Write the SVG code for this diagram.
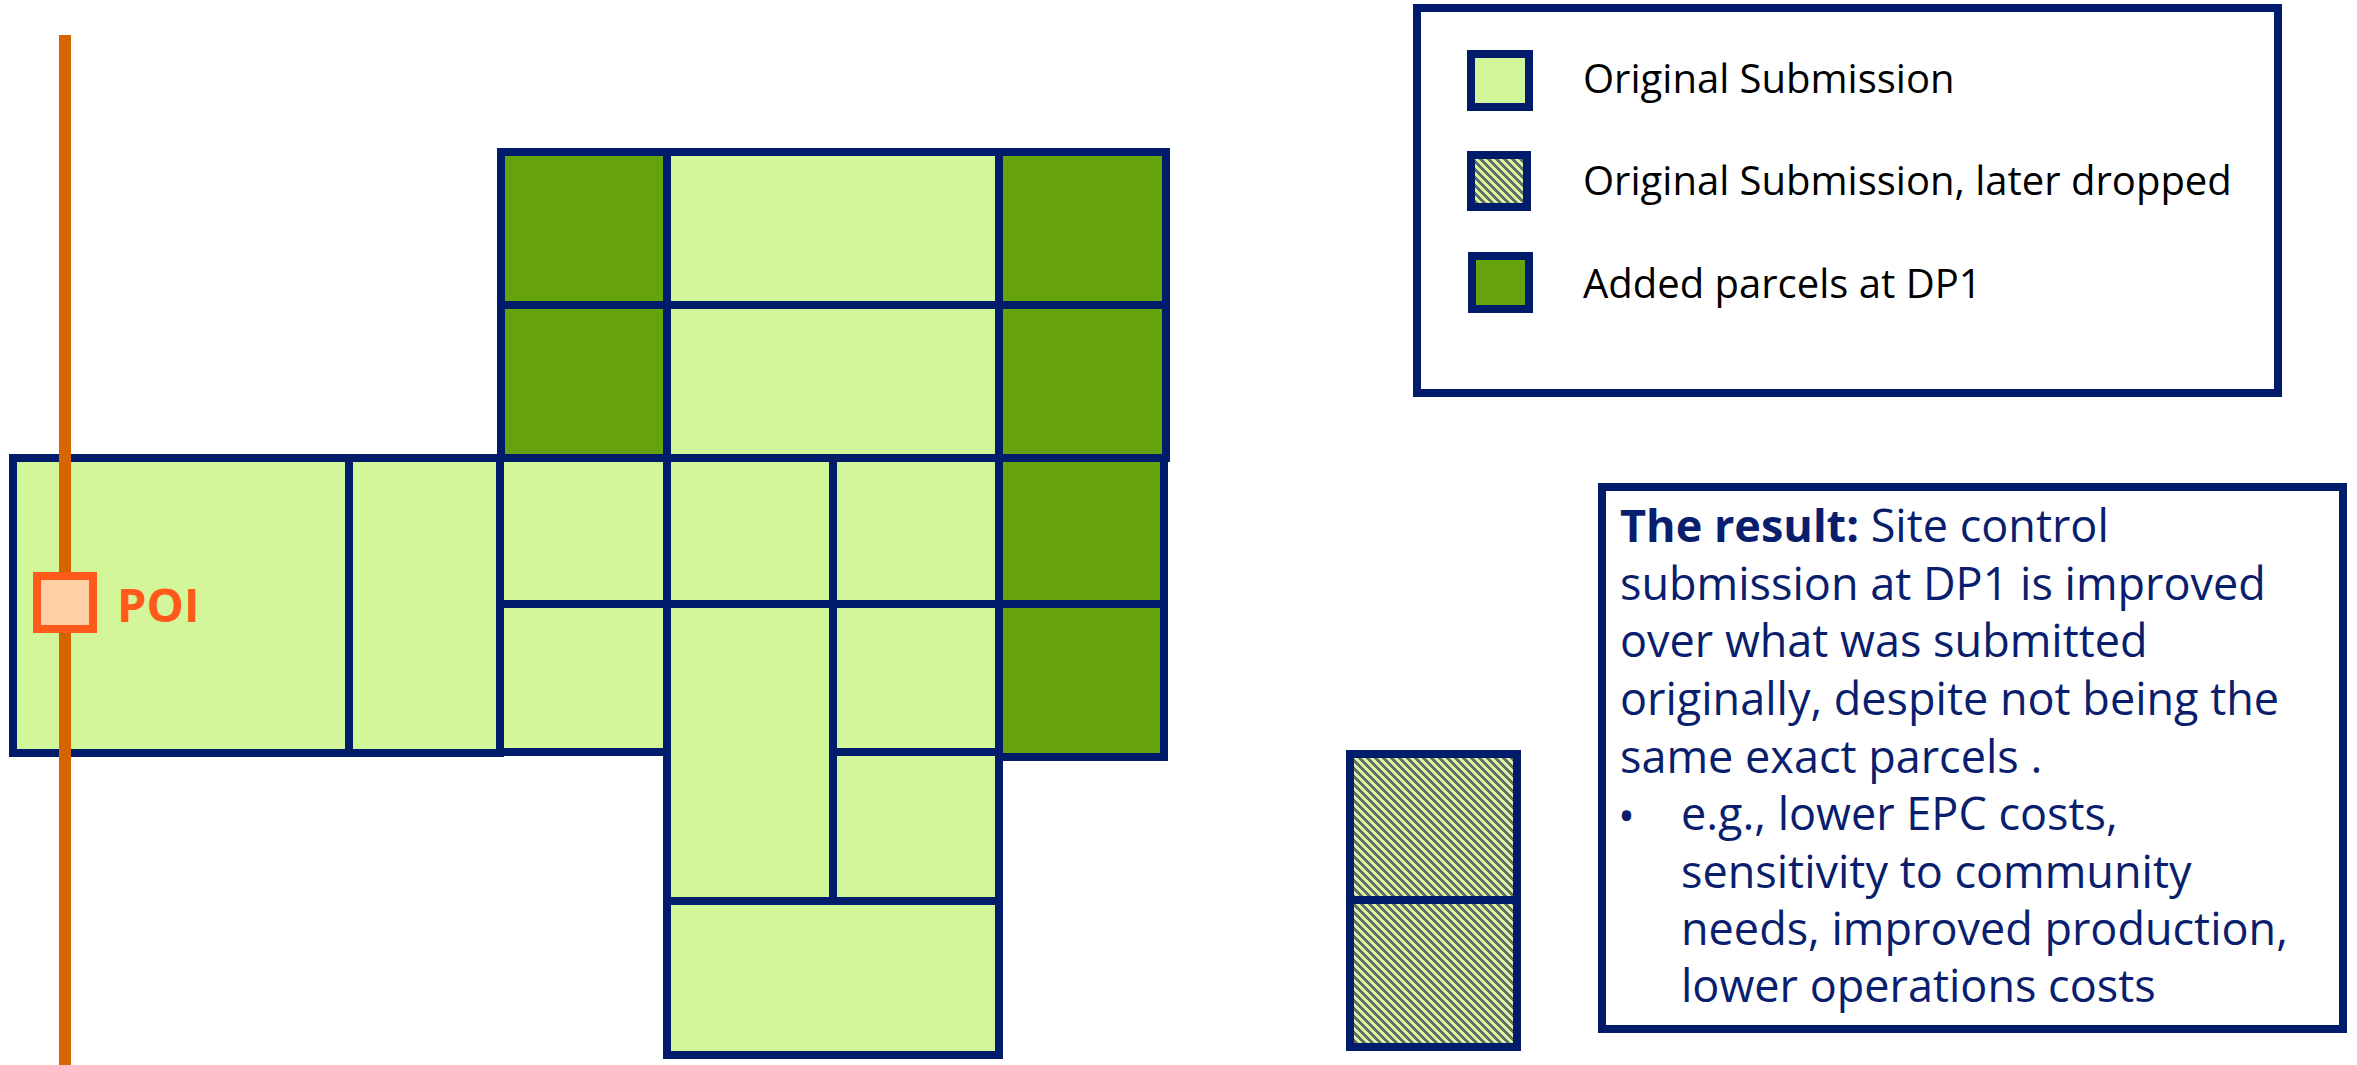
<svg xmlns="http://www.w3.org/2000/svg" width="2357" height="1065" viewBox="0 0 2357 1065">
<style>
.p{stroke:#021C6C;stroke-width:8}
.lg{fill:#D4F69A}
.dg{fill:#66A20C}
.hx{fill:url(#hatch)}
.leg{font-family:"Open Sans","Liberation Sans",sans-serif;font-size:40px;fill:#000}
.res{font-family:"Open Sans","Liberation Sans",sans-serif;font-size:45px;fill:#0A1E6E}
.box{fill:#fff;stroke:#021C6C;stroke-width:8}
</style>
<defs>
<pattern id="hatch" patternUnits="userSpaceOnUse" width="8" height="8">
<rect width="8" height="8" fill="#D4F69A"/>
<path d="M0 0h4v1h-4z M1 1h4v1h-4z M2 2h4v1h-4z M3 3h4v1h-4z M4 4h4v1h-4z M5 5h3v1h-3z M0 5h1v1h-1z M6 6h2v1h-2z M0 6h2v1h-2z M7 7h1v1h-1z M0 7h3v1h-3z" fill="#6A6A6A" shape-rendering="crispEdges"/>
</pattern>
</defs>
<rect width="2357" height="1065" fill="#fff"/>

<g id="parcels">
<rect id="p-big" class="p lg" x="13" y="458" width="336" height="295"/>
<rect id="p-b2" class="p lg" x="349" y="458" width="151" height="295"/>
<rect id="p-t1" class="p dg" x="501" y="152" width="166" height="153"/>
<rect id="p-t2" class="p lg" x="667" y="152" width="332" height="153"/>
<rect id="p-t3" class="p dg" x="999" y="152" width="167" height="153"/>
<rect id="p-u1" class="p dg" x="501" y="305" width="166" height="153"/>
<rect id="p-u2" class="p lg" x="667" y="305" width="332" height="153"/>
<rect id="p-u3" class="p dg" x="999" y="305" width="167" height="153"/>
<rect id="p-r1" class="p lg" x="500" y="458" width="167" height="146"/>
<rect id="p-r2" class="p lg" x="667" y="458" width="166" height="146"/>
<rect id="p-r3" class="p lg" x="833" y="458" width="166" height="146"/>
<rect id="p-r4" class="p dg" x="999" y="458" width="165" height="146"/>
<rect id="p-s1" class="p lg" x="500" y="604" width="167" height="148"/>
<rect id="p-s2" class="p lg" x="667" y="604" width="166" height="297"/>
<rect id="p-s3" class="p lg" x="833" y="604" width="166" height="148"/>
<rect id="p-s4" class="p dg" x="999" y="604" width="165" height="153"/>
<rect id="p-v3" class="p lg" x="833" y="752" width="166" height="149"/>
<rect id="p-w" class="p lg" x="667" y="901" width="332" height="154"/>
</g>

<g id="dropped">
<rect id="d1" class="p hx" x="1350" y="754" width="167" height="146"/>
<rect id="d2" class="p hx" x="1350" y="900" width="167" height="147"/>
</g>

<g id="connectors">
<line id="line" x1="65" y1="35" x2="65" y2="1065" stroke="#D66400" stroke-width="12"/>
</g>

<g id="poi">
<rect x="37" y="576" width="56" height="53" fill="#FFD0A6" stroke="#FF5A19" stroke-width="8"/>
<text x="117" y="622" font-family="'Open Sans','Liberation Sans',sans-serif" font-size="47" font-weight="bold" fill="#FF5A19">POI</text>
</g>

<g id="legend">
<rect class="box" x="1417" y="8" width="861" height="385"/>
<rect class="p lg" x="1471" y="54" width="58" height="53"/>
<rect class="p hx" x="1471" y="155" width="56" height="52"/>
<rect class="p dg" x="1472" y="256" width="57" height="53"/>
<text class="leg" x="1583" y="93">Original Submission</text>
<text class="leg" x="1583" y="195">Original Submission, later dropped</text>
<text class="leg" x="1583" y="298">Added parcels at DP1</text>
</g>

<g id="result">
<rect class="box" x="1602" y="487" width="741" height="542"/>
<text class="res" x="1620" y="542"><tspan font-weight="bold">The result:</tspan> Site control</text>
<text class="res" x="1620" y="600">submission at DP1 is improved</text>
<text class="res" x="1620" y="657">over what was submitted</text>
<text class="res" x="1620" y="715">originally, despite not being the</text>
<text class="res" x="1620" y="773">same exact parcels .</text>
<text class="res" x="1618" y="832" font-size="58">•</text>
<text class="res" x="1681" y="830">e.g., lower EPC costs,</text>
<text class="res" x="1681" y="888">sensitivity to community</text>
<text class="res" x="1681" y="945">needs, improved production,</text>
<text class="res" x="1681" y="1002">lower operations costs</text>
</g>
</svg>
